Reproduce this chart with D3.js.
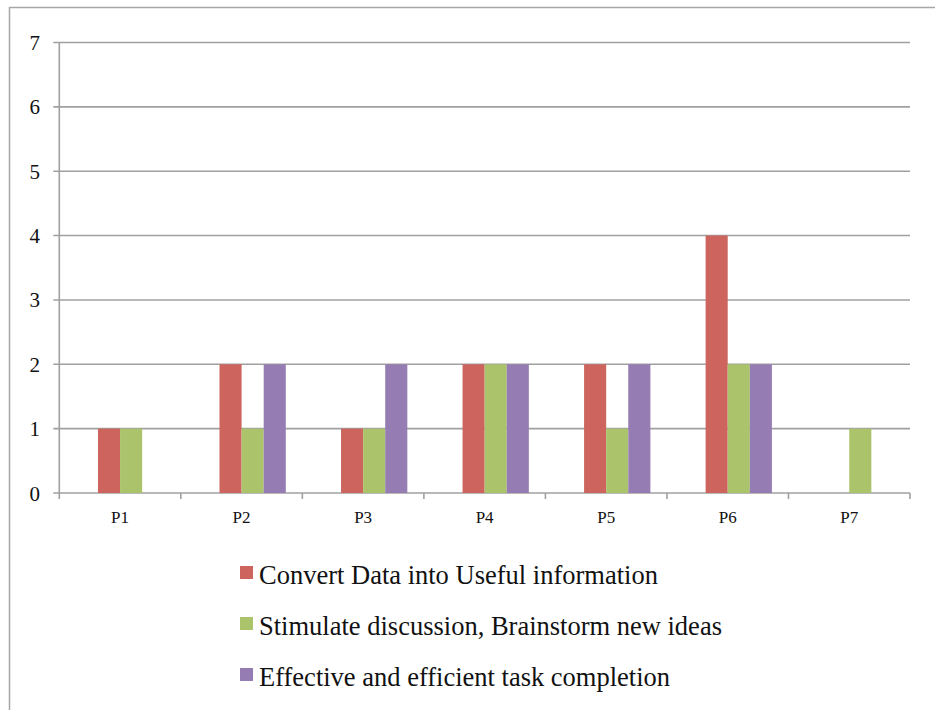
<!DOCTYPE html>
<html>
<head>
<meta charset="utf-8">
<script src="https://cdn.jsdelivr.net/npm/d3@7/dist/d3.min.js"></script>
<style>
  html, body { margin: 0; padding: 0; background: #fff; }
  svg { display: block; }
  svg text { font-family: "Liberation Serif", "Times New Roman", Times, serif; fill: #111; }
</style>
</head>
<body>
<script>
// Categories, series and values
const categories = ["P1", "P2", "P3", "P4", "P5", "P6", "P7"];
const seriesNames = [
  "Convert Data into Useful information",
  "Stimulate discussion, Brainstorm new ideas",
  "Effective and efficient task completion"
];
const seriesColors = ["#CD645E", "#ABC46B", "#957CB2"];
const convertData = [1, 2, 1, 2, 2, 4, 0];
const stimulate   = [1, 1, 1, 2, 1, 2, 1];
const effective   = [0, 2, 2, 2, 2, 2, 0];
const yTicks = [0, 1, 2, 3, 4, 5, 6, 7];

const seriesValues = [convertData, stimulate, effective];

const W = 935, H = 710;
const svg = d3.select("body").append("svg").attr("width", W).attr("height", H);

// outer frame (top and left edges visible)
svg.append("path")
  .attr("d", "M9.5,710 L9.5,7.5 L935,7.5")
  .attr("fill", "none").attr("stroke", "#A6A6A6").attr("stroke-width", 1.5);

const plot = { left: 59.3, right: 910, top: 42.5, bottom: 493 };

const x = d3.scaleBand().domain(categories).range([plot.left, plot.right]).padding(0);
// four slots per category; the first one stays empty
const xSub = d3.scaleBand().domain([0, 1, 2, 3]).range([0, x.bandwidth()])
  .paddingInner(0).paddingOuter(0.75);
const y = d3.scaleLinear().domain([0, 7]).range([plot.bottom, plot.top]);

const gridColor = "#A0A0A0";

// horizontal gridlines with small ticks to the left
svg.append("g").selectAll("line").data(yTicks).join("line")
  .attr("x1", plot.left - 6).attr("x2", plot.right)
  .attr("y1", d => y(d)).attr("y2", d => y(d))
  .attr("stroke", gridColor).attr("stroke-width", 1.6);

// y axis line
svg.append("line")
  .attr("x1", plot.left).attr("x2", plot.left)
  .attr("y1", plot.top).attr("y2", plot.bottom)
  .attr("stroke", gridColor).attr("stroke-width", 1.6);

// y tick labels
svg.append("g").selectAll("text").data(yTicks).join("text")
  .attr("x", 40).attr("y", d => y(d))
  .attr("dy", "0.36em")
  .attr("text-anchor", "end")
  .attr("font-size", 21)
  .text(d => d);

// bars
const groups = svg.append("g").selectAll("g").data(categories).join("g")
  .attr("transform", c => `translate(${x(c)},0)`);

groups.selectAll("rect")
  .data((c, ci) => seriesValues.map((vals, si) => ({ si, v: vals[ci] })).filter(d => d.v > 0))
  .join("rect")
  .attr("x", d => xSub(d.si + 1))
  .attr("width", xSub.bandwidth())
  .attr("y", d => y(d.v))
  .attr("height", d => y(0) - y(d.v))
  .attr("fill", d => seriesColors[d.si]);

// category axis ticks
const bounds = categories.map(c => x(c)).concat([plot.right]);
svg.append("g").selectAll("line").data(bounds).join("line")
  .attr("x1", d => d).attr("x2", d => d)
  .attr("y1", plot.bottom).attr("y2", plot.bottom + 6)
  .attr("stroke", gridColor).attr("stroke-width", 1.6);

// category labels
svg.append("g").selectAll("text").data(categories).join("text")
  .attr("x", c => x(c) + x.bandwidth() / 2)
  .attr("y", 523)
  .attr("text-anchor", "middle")
  .attr("font-size", 17)
  .text(c => c);

// legend
const legend = svg.append("g").selectAll("g").data(seriesNames).join("g")
  .attr("transform", (d, i) => `translate(240,${584 + i * 51})`);
legend.append("rect")
  .attr("x", 0).attr("y", -18).attr("width", 13).attr("height", 13)
  .attr("fill", (d, i) => seriesColors[i]);
legend.append("text")
  .attr("x", 19).attr("y", 0)
  .attr("font-size", 26.5)
  .text(d => d);
</script>
</body>
</html>
